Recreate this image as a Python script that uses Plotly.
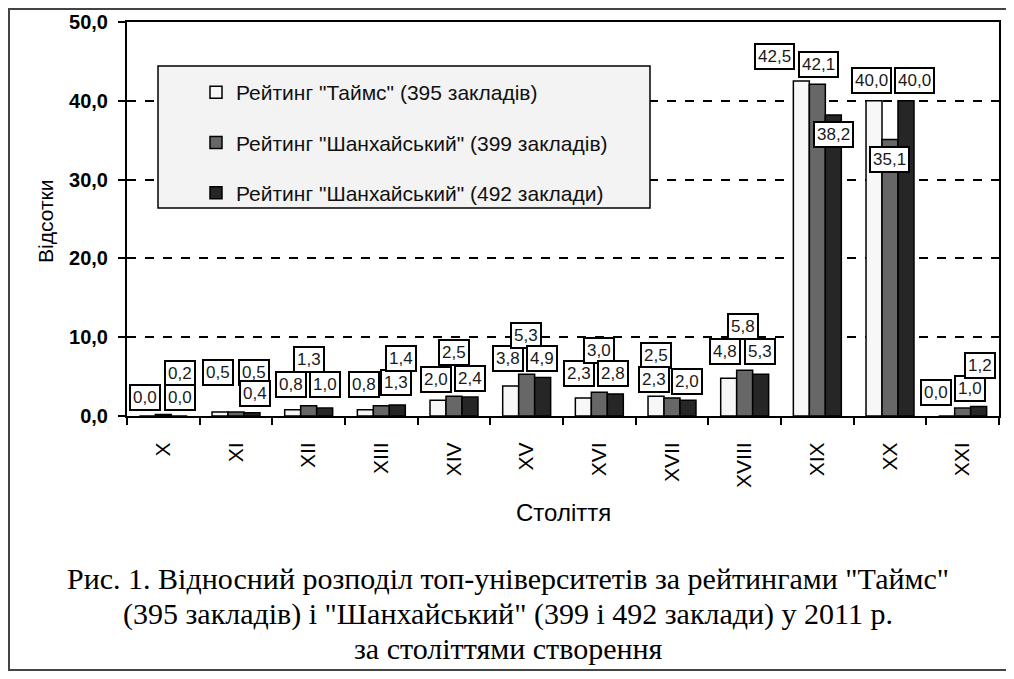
import plotly.graph_objects as go

# ---------------- data ----------------
categories = ["X", "XI", "XII", "XIII", "XIV", "XV", "XVI", "XVII", "XVIII", "XIX", "XX", "XXI"]
times_395 = [0.0, 0.5, 0.8, 0.8, 2.0, 3.8, 2.3, 2.5, 4.8, 42.5, 40.0, 0.0]
shanghai_399 = [0.2, 0.5, 1.3, 1.3, 2.5, 5.3, 3.0, 2.3, 5.8, 42.1, 35.1, 1.0]
shanghai_492 = [0.0, 0.4, 1.0, 1.4, 2.4, 4.9, 2.8, 2.0, 5.3, 38.2, 40.0, 1.2]
series_names = [
    'Рейтинг "Таймс" (395 закладів)',
    'Рейтинг "Шанхайський" (399 закладів)',
    'Рейтинг "Шанхайський" (492 заклади)',
]
y_ticks = [0, 10, 20, 30, 40, 50]
x_title = "Століття"
y_title = "Відсотки"
caption_lines = [
    'Рис. 1. Відносний розподіл топ-університетів за рейтингами "Таймс"',
    '(395 закладів) і "Шанхайський" (399 і 492 заклади) у 2011 р.',
    'за століттями створення',
]

# ---------------- styles / layout ----------------
OFF = 8  # default page body margin
W, H = 1014 - OFF, 679 - OFF
# plot area in screen pixels: x 127..999, y 22..416
ML, MT = 127 - OFF, 22 - OFF
MR, MB = W - (999 - OFF), H - (416 - OFF)
PW, PH = W - ML - MR, H - MT - MB
BARGAP = 0.34
bar_px = PW / len(categories) * (1 - BARGAP) / 3

colors = ["#f7f7f7", "#676767", "#262626"]

# label offsets in px (dx, dy) relative to the top centre of each bar
label_offsets = [
    [(-2, 19), (-2, 40), (-2, 25), (-1, 25), (-2, 21), (-3, 28), (-4, 24), (0, 41), (-4, 27), (-27, 25), (-3, 20), (-11, 24)],
    [(17, 41), (18, 40), (0, 46), (15, 23), (0, 44), (-1, 39), (0, 42), (-18, 18), (-2, 44), (1, 20), (-1, -20), (7, 20)],
    [(1, 19), (3, 19), (0, 24), (4, 46), (0, 19), (-1, 19), (-2, 20), (-1, 19), (-1, 23), (0, -20), (9, 20), (1, 41)],
]

FONT = "Liberation Sans, Arial, sans-serif"
SERIF = "Liberation Serif, Times New Roman, serif"


def px_x(p):
    """screen px -> paper x"""
    return (p - OFF - ML) / PW


def px_y(p):
    """screen px -> paper y"""
    return (H - MB - (p - OFF)) / PH


fig = go.Figure()
all_series = [times_395, shanghai_399, shanghai_492]
for j, (name, vals) in enumerate(zip(series_names, all_series)):
    fig.add_trace(go.Bar(
        x=categories, y=vals, name=name, legendgroup=f"g{j}",
        marker=dict(color=colors[j], line=dict(color="#000000", width=1.5)),
        hoverinfo="skip",
    ))

annotations = []
for j, vals in enumerate(all_series):
    for i, v in enumerate(vals):
        dx, dy = label_offsets[j][i]
        annotations.append(dict(
            x=categories[i], y=v, xref="x", yref="y",
            text=f"{v:.1f}".replace(".", ","),
            showarrow=False, xanchor="center", yanchor="middle",
            xshift=(j - 1) * bar_px + dx, yshift=dy,
            font=dict(family=FONT, size=17, color="#1a1a1a"),
            bgcolor="#ffffff", bordercolor="#000000", borderwidth=2, borderpad=2,
        ))

# axis titles
annotations.append(dict(
    x=0.5, y=px_y(513), xref="paper", yref="paper", text=x_title, showarrow=False,
    xanchor="center", yanchor="middle", font=dict(family=FONT, size=24, color="#000000"),
))
annotations.append(dict(
    x=px_x(45), y=px_y(222), xref="paper", yref="paper", text=y_title, showarrow=False,
    textangle=-90, xanchor="center", yanchor="middle", font=dict(family=FONT, size=21, color="#000000"),
))
# caption
for line, yc in zip(caption_lines, [578, 614, 648]):
    annotations.append(dict(
        x=px_x(508), y=px_y(yc), xref="paper", yref="paper", text=line, showarrow=False,
        xanchor="center", yanchor="middle", font=dict(family=SERIF, size=30, color="#000000"),
    ))

shapes = [
    # outer frame
    dict(type="rect", xref="paper", yref="paper", x0=px_x(9), x1=px_x(1009), y0=px_y(670), y1=px_y(9),
         line=dict(color="#444444", width=2), fillcolor="rgba(0,0,0,0)", layer="above"),
    # legend box
    dict(type="rect", xref="paper", yref="paper", x0=px_x(158), x1=px_x(650), y0=px_y(208), y1=px_y(66),
         line=dict(color="#000000", width=1.5), fillcolor="#f3f3f3", layer="above"),
]

fig.update_layout(
    width=W, height=H,
    margin=dict(l=ML, r=MR, t=MT, b=MB, autoexpand=False),
    paper_bgcolor="#ffffff", plot_bgcolor="#ffffff",
    separators=",.",
    barmode="group", bargap=BARGAP, bargroupgap=0,
    font=dict(family=FONT, color="#000000"),
    showlegend=True,
    legend=dict(
        x=px_x(196), y=px_y(72), xanchor="left", yanchor="top",
        bgcolor="rgba(0,0,0,0)", borderwidth=0,
        traceorder="grouped", tracegroupgap=20,
        font=dict(family=FONT, size=21, color="#111111"),
    ),
    annotations=annotations,
    shapes=shapes,
)
fig.update_xaxes(
    type="category", tickangle=-90, tickson="boundaries",
    ticks="outside", ticklen=7, tickwidth=2, tickcolor="#000000",
    showline=True, linecolor="#000000", linewidth=2, mirror=True,
    showgrid=False, ticklabelstandoff=16,
    tickfont=dict(family=FONT, size=21, color="#000000"),
)
fig.update_yaxes(
    range=[0, 50], tickvals=y_ticks, tickformat=".1f",
    ticks="outside", ticklen=7, tickwidth=2, tickcolor="#000000",
    showline=True, linecolor="#000000", linewidth=2, mirror=True,
    showgrid=True, gridcolor="#000000", gridwidth=1.5, griddash="dash",
    zeroline=False, ticklabelstandoff=6,
    tickfont=dict(family=FONT, size=20, color="#000000", weight="bold"),
)

fig.write_html("out.html")
